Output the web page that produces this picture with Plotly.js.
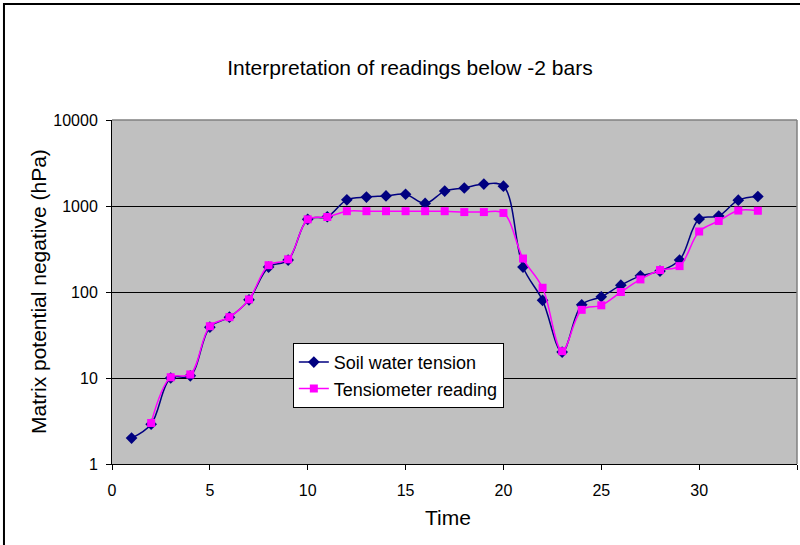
<!DOCTYPE html>
<html>
<head>
<meta charset="utf-8">
<script src="https://cdn.plot.ly/plotly-3.0.1.min.js"></script>
<style>html,body{margin:0;padding:0;background:#fff;}#chart{width:800px;height:545px;}</style>
</head>
<body>
<div id="chart"></div>
<script>
var time = [1,2,3,4,5,6,7,8,9,10,11,12,13,14,15,16,17,18,19,20,21,22,23,24,25,26,27,28,29,30,31,32,33];
var soilWaterTension = [2.0,2.9,10,10.6,39,51,81,195,235,700,750,1180,1270,1310,1370,1070,1490,1620,1800,1700,195,80,20,71,88,120,154,175,235,707,765,1170,1290];
var timeTensiometer = [2,3,4,5,6,7,8,9,10,11,12,13,14,15,16,17,18,19,20,21,22,23,24,25,26,27,28,29,30,31,32,33];
var tensiometerReading = [3.0,10.2,11,40,51,82,205,240,700,745,870,870,870,870,870,870,850,850,830,245,112,20.5,62,70,100,140,180,200,505,670,885,880];
var xTicks = [0,5,10,15,20,25,30,35];
var yTicks = [1,10,100,1000,10000];

var font = 'Liberation Sans, Arial, sans-serif';

var traces = [
  {x: time, y: soilWaterTension, name: 'Soil water tension', type: 'scatter', mode: 'lines+markers',
   line: {color: '#000080', width: 1.5, shape: 'spline', smoothing: 1},
   marker: {symbol: 'diamond', size: 9, color: '#000080'}},
  {x: timeTensiometer, y: tensiometerReading, name: 'Tensiometer reading', type: 'scatter', mode: 'lines+markers',
   line: {color: '#FF00FF', width: 1.5, shape: 'spline', smoothing: 1},
   marker: {symbol: 'square', size: 8, color: '#FF00FF'}}
];

var layout = {
  width: 800, height: 545,
  margin: {l: 112, r: 3, t: 120, b: 81},
  paper_bgcolor: '#ffffff',
  plot_bgcolor: '#c0c0c0',
  font: {family: font, size: 16, color: '#000'},
  title: {text: 'Interpretation of readings below -2 bars', font: {family: font, size: 21, color: '#000'},
          x: 0.435, xref: 'paper', xanchor: 'center', y: 1 - 68/545, yref: 'container', yanchor: 'middle', pad: {t:0,b:0}},
  showlegend: true,
  legend: {x: 0.264, y: 0.352, xanchor: 'left', yanchor: 'top', bgcolor: '#ffffff', bordercolor: '#000', borderwidth: 1,
           font: {family: font, size: 18, color: '#000'}, tracegroupgap: 0, itemwidth: 30},
  xaxis: {range: [0, 35], tickvals: xTicks, ticktext: xTicks.map(String), ticks: 'outside', ticklen: 5, tickcolor: '#000',
          showgrid: false, zeroline: false, showline: true, linecolor: '#000', linewidth: 1, mirror: false,
          ticklabelstandoff: 7,
          tickfont: {family: font, size: 16, color: '#000'}},
  yaxis: {type: 'log', range: [0, 4], tickvals: yTicks, ticktext: yTicks.map(String), ticks: 'outside', ticklen: 5, tickcolor: '#000',
          showgrid: true, gridcolor: '#000', gridwidth: 1, zeroline: false, showline: true, linecolor: '#000', linewidth: 1,
          ticklabelstandoff: 5,
          tickfont: {family: font, size: 16, color: '#000'}},
  annotations: [
    {text: 'Time', xref: 'paper', yref: 'paper', x: (448 - 112) / 685, y: (464 - 517) / 344, xanchor: 'center', yanchor: 'middle',
     showarrow: false, font: {family: font, size: 21, color: '#000'}},
    {text: 'Matrix potential negative (hPa)', xref: 'paper', yref: 'paper', x: (38 - 112) / 685, y: (464 - 292) / 344,
     xanchor: 'center', yanchor: 'middle', textangle: -90, showarrow: false, font: {family: font, size: 21, color: '#000'}}
  ],
  shapes: [
    {type: 'rect', xref: 'paper', yref: 'paper', x0: -0.1577, x1: 1.02, y0: -0.26, y1: 1.337,
     line: {color: '#000', width: 2}, fillcolor: 'rgba(0,0,0,0)', layer: 'above'},
    {type: 'line', xref: 'paper', yref: 'paper', x0: 0, x1: 1, y0: 1, y1: 1, line: {color: '#808080', width: 1.5}},
    {type: 'line', xref: 'paper', yref: 'paper', x0: 1, x1: 1, y0: 0, y1: 1, line: {color: '#808080', width: 1.5}}
  ]
};

Plotly.newPlot('chart', traces, layout, {displayModeBar: false, staticPlot: true});
</script>
</body>
</html>
